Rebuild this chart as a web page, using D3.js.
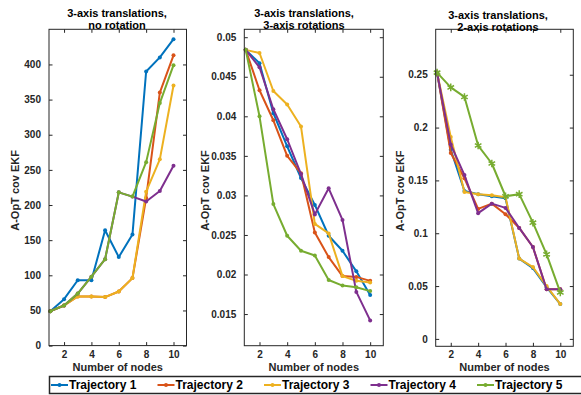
<!DOCTYPE html>
<html>
<head>
<meta charset="utf-8">
<script src="https://cdn.jsdelivr.net/npm/d3@7"></script>
<style>
  body { margin: 0; background: #fff; }
  svg { display: block; font-family: "Liberation Sans", Arial, sans-serif; font-weight: bold; }
</style>
</head>
<body>
<svg id="chart" width="581" height="395"></svg>
<script>
const nodes = [1, 2, 3, 4, 5, 6, 7, 8, 9, 10];
const trajNames = ["Trajectory 1", "Trajectory 2", "Trajectory 3", "Trajectory 4", "Trajectory 5"];
const colors = ["#0072BD", "#D95319", "#EDB120", "#7E2F8E", "#77AC30"];

// 3-axis translations, no rotation
const noRot = [
  [49, 66, 93, 93, 164, 126, 158, 390, 410, 436],
  [49, 57, 70, 70, 69, 77, 96, 210, 360, 413],
  [49, 57, 70, 70, 69, 77, 96, 219, 265, 370],
  [49, 57, 74, 98, 123, 218, 212, 205, 220, 256],
  [49, 57, 74, 98, 123, 218, 212, 261, 345, 399]
];
// 3-axis translations, 3-axis rotations
const rot3 = [
  [0.0484, 0.0467, 0.0404, 0.0362, 0.0322, 0.0288, 0.0249, 0.0230, 0.0204, 0.0174],
  [0.0484, 0.0433, 0.0395, 0.0350, 0.0328, 0.0253, 0.0222, 0.0198, 0.0197, 0.0192],
  [0.0484, 0.0480, 0.0432, 0.0415, 0.0387, 0.0264, 0.0252, 0.0198, 0.0192, 0.0190],
  [0.0484, 0.0462, 0.0409, 0.0371, 0.0327, 0.0276, 0.0309, 0.0269, 0.0178, 0.0142],
  [0.0484, 0.0400, 0.0289, 0.0249, 0.0230, 0.0224, 0.0193, 0.0186, 0.0184, 0.0179]
];
// 3-axis translations, 2-axis rotations
const rot2 = [
  [0.252, 0.179, 0.140, 0.137, 0.135, 0.133, 0.076, 0.067, 0.049, 0.033],
  [0.252, 0.176, 0.152, 0.123, 0.128, 0.118, 0.105, 0.087, 0.047, 0.047],
  [0.252, 0.191, 0.139, 0.137, 0.136, 0.134, 0.076, 0.068, 0.050, 0.033],
  [0.252, 0.184, 0.155, 0.119, 0.128, 0.124, 0.105, 0.087, 0.047, 0.047],
  [0.252, 0.238, 0.229, 0.183, 0.166, 0.135, 0.137, 0.110, 0.080, 0.044]
];

const xTicks = [2, 4, 6, 8, 10];
const noRotTicks = [0, 50, 100, 150, 200, 250, 300, 350, 400];
const rot3Ticks = [0.015, 0.02, 0.025, 0.03, 0.035, 0.04, 0.045, 0.05];
const rot2Ticks = [0, 0.05, 0.1, 0.15, 0.2, 0.25];

const panels = [
  { title: ["3-axis translations,", "no rotation"], data: noRot, ticks: noRotTicks, dom: [0, 450],
    left: 49, top: 29.3, w: 137.5, h: 316.3, tx: 117, ty: 16.5, lx: 15, fmt: d3.format("d"), star: false },
  { title: ["3-axis translations,", "3-axis rotations"], data: rot3, ticks: rot3Ticks, dom: [0.011, 0.051],
    left: 244.3, top: 29.3, w: 139, h: 316.4, tx: 304, ty: 16.5, lx: 205, fmt: d => String(+d.toFixed(3)), star: false },
  { title: ["3-axis translations,", "2-axis rotations"], data: rot2, ticks: rot2Ticks, dom: [-0.007, 0.293],
    left: 435.7, top: 29.3, w: 137.6, h: 317, tx: 498, ty: 18.5, lx: 400, fmt: d => String(+d.toFixed(2)), star: true }
];

const svg = d3.select("#chart");
const ink = "#262626";

panels.forEach(p => {
  const x = d3.scaleLinear().domain([0.9, 10.95]).range([p.left, p.left + p.w]);
  const y = d3.scaleLinear().domain(p.dom).range([p.top + p.h, p.top]);
  const g = svg.append("g");

  // axes with inward ticks on all four sides
  const axB = g.append("g").attr("transform", `translate(0,${p.top + p.h})`)
    .call(d3.axisBottom(x).tickValues(xTicks).tickSizeInner(-3.5).tickSizeOuter(0).tickPadding(5));
  const axT = g.append("g").attr("transform", `translate(0,${p.top})`)
    .call(d3.axisTop(x).tickValues(xTicks).tickSizeInner(-3.5).tickSizeOuter(0).tickFormat(""));
  const axL = g.append("g").attr("transform", `translate(${p.left},0)`)
    .call(d3.axisLeft(y).tickValues(p.ticks).tickSizeInner(-3.5).tickSizeOuter(0).tickPadding(8).tickFormat(p.fmt));
  const axR = g.append("g").attr("transform", `translate(${p.left + p.w},0)`)
    .call(d3.axisRight(y).tickValues(p.ticks).tickSizeInner(-3.5).tickSizeOuter(0).tickFormat(""));
  [axB, axT, axL, axR].forEach(a => {
    a.select(".domain").remove();
    a.selectAll("line").attr("stroke", ink);
    a.selectAll("text").attr("fill", ink).style("font-size", "10px").style("font-weight", "bold")
      .style("font-family", "'Liberation Sans', Arial, sans-serif");
  });

  const lineGen = d3.line().x((d, i) => x(nodes[i])).y(d => y(d));
  p.data.forEach((series, k) => {
    g.append("path").datum(series)
      .attr("fill", "none").attr("stroke", colors[k]).attr("stroke-width", 2)
      .attr("stroke-linejoin", "round").attr("d", lineGen);
    if (p.star && k === 4) {
      const sym = d3.symbol().type(d3.symbolAsterisk).size(40);
      g.selectAll(null).data(series).enter().append("path")
        .attr("transform", (d, i) => `translate(${x(nodes[i])},${y(d)})`)
        .attr("d", sym).attr("fill", "none").attr("stroke", colors[k]).attr("stroke-width", 1.5);
    } else {
      g.selectAll(null).data(series).enter().append("circle")
        .attr("cx", (d, i) => x(nodes[i])).attr("cy", d => y(d)).attr("r", 2)
        .attr("fill", colors[k]);
    }
  });

  // frame
  g.append("rect").attr("x", p.left).attr("y", p.top).attr("width", p.w).attr("height", p.h)
    .attr("fill", "none").attr("stroke", ink).attr("stroke-width", 1);

  // title
  g.append("text").attr("x", p.tx).attr("y", p.ty).attr("text-anchor", "middle")
    .attr("font-size", 11).attr("fill", "#000")
    .selectAll("tspan").data(p.title).enter().append("tspan")
    .attr("x", p.tx).attr("dy", (d, i) => i === 0 ? 0 : 12.5).text(d => d);

  // x label
  g.append("text").attr("x", p.left + p.w / 2).attr("y", p.top + p.h + 25)
    .attr("text-anchor", "middle").attr("font-size", 11).attr("fill", ink).text("Number of nodes");

  // y label
  g.append("text").attr("transform", `translate(${p.lx},${p.top + p.h / 2 + 3}) rotate(-90)`)
    .attr("dy", "0.35em").attr("text-anchor", "middle").attr("font-size", 11).attr("fill", ink)
    .text("A-OpT cov EKF");
});

// legend
const legend = svg.append("g");
legend.append("rect").attr("x", 49.5).attr("y", 376.5).attr("width", 560).attr("height", 17)
  .attr("fill", "#fff").attr("stroke", ink).attr("stroke-width", 1.5);
const item = legend.selectAll("g.item").data(trajNames).enter().append("g")
  .attr("class", "item").attr("transform", (d, i) => `translate(${51 + i * 106.5},385)`);
item.append("line").attr("x1", 0).attr("x2", 17).attr("y1", 0).attr("y2", 0)
  .attr("stroke", (d, i) => colors[i]).attr("stroke-width", 2);
item.append("circle").attr("cx", 8.5).attr("cy", 0).attr("r", 2).attr("fill", (d, i) => colors[i]);
item.append("text").attr("x", 18).attr("dy", "0.36em").attr("font-size", 12).attr("fill", "#000")
  .text(d => d);
</script>
</body>
</html>
